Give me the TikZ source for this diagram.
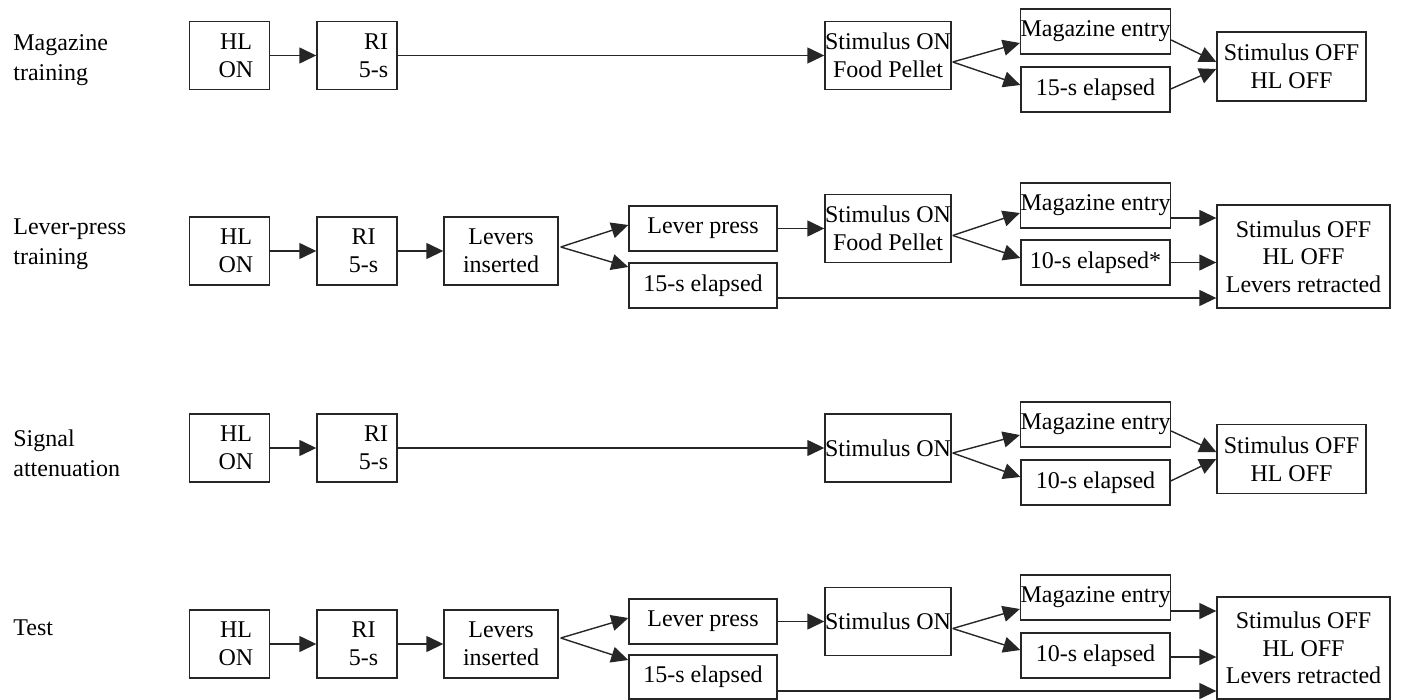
\documentclass[tikz,border=0pt]{standalone}
\usepackage{fontspec}
\setmainfont{Liberation Serif}
\usetikzlibrary{arrows.meta,calc}
\begin{document}
\begin{tikzpicture}[x=0.5pt,y=-0.5pt,
  box/.style 2 args={draw=black!85, line width=0.7pt, minimum width=#1*0.5pt, minimum height=#2*0.5pt, inner sep=0pt, font=\fontsize{12}{13.8}\selectfont, align=center},
  txt/.style={font=\fontsize{12}{14}\selectfont, align=center, inner sep=0pt},
  rtxt/.style={font=\fontsize{12}{14}\selectfont, align=right, inner sep=0pt},
  rowlabel/.style={font=\fontsize{12}{15}\selectfont, align=left, anchor=west, inner sep=0pt},
  arr/.style={draw=black!85, line width=0.7pt, -{Triangle[length=8.5pt,width=8pt]}}
]
\useasboundingbox (0,0) rectangle (1401,700);

% ---------- row labels ----------
\node[rowlabel] (lab1) at (13,60) {Magazine\\training};
\node[rowlabel] (lab2) at (13,244) {Lever-press\\training};
\node[rowlabel] (lab3) at (13,453) {Signal\\attenuation};
\node[rowlabel] (lab4) at (13,628) {Test};

% ---------- row 1: magazine training ----------
\node[box={80}{68}, label={[txt,xshift=3.25pt]center:HL\\ON}] (hl1) at (229.5,55.5) {};
\node[box={80}{68}, label={[rtxt,xshift=8.25pt]center:RI\\5-s}] (ri1) at (357,55.5) {};
\node[box={126}{68}] (st1) at (888,55.5) {Stimulus ON\\Food Pellet};
\node[box={149}{45}] (mg1) at (1095.5,31.5) {Magazine entry};
\node[box={149}{45}] (el1) at (1095.5,89.5) {15-s elapsed};
\node[box={149}{69}] (of1) at (1291.5,66.5) {Stimulus OFF\\HL OFF};

\draw[arr] (hl1.east) -- (ri1.west);
\draw[arr] (ri1.east) -- (st1.west);
\draw[arr] ($(st1.east)+(1,6.5)$) -- ($(mg1.west)+(0,11.5)$);
\draw[arr] ($(st1.east)+(1,6.5)$) -- ($(el1.west)+(0,-4.5)$);
\draw[arr] ($(mg1.east)+(0,8.5)$) -- ($(of1.west)+(0,-4.5)$);
\draw[arr] ($(el1.east)+(0,-0.5)$) -- ($(of1.west)+(0,2.5)$);

% ---------- row 2: lever-press training ----------
\node[box={80}{68}, label={[txt,xshift=3.25pt]center:HL\\ON}] (hl2) at (229.5,251) {};
\node[box={80}{68}, label={[txt,xshift=3.25pt]center:RI\\5-s}] (ri2) at (357,251) {};
\node[box={114}{68}] (lv2) at (501,251) {Levers\\inserted};
\node[box={148}{45}] (lp2) at (703,228.5) {Lever press};
\node[box={148}{45}] (ea2) at (703,285.5) {15-s elapsed};
\node[box={126}{68}] (st2) at (888,228.5) {Stimulus ON\\Food Pellet};
\node[box={149}{45}] (mg2) at (1095.5,205.5) {Magazine entry};
\node[box={149}{45}] (eb2) at (1095.5,262.5) {10-s elapsed*};
\node[box={173}{103}] (of2) at (1303.5,256.5) {Stimulus OFF\\HL OFF\\Levers retracted};

\draw[arr] (hl2.east) -- (ri2.west);
\draw[arr] (ri2.east) -- (lv2.west);
\draw[arr] ($(lv2.east)+(2,-4)$) -- ($(lp2.west)+(0,-3.5)$);
\draw[arr] ($(lv2.east)+(2,-4)$) -- ($(ea2.west)+(0,-18.5)$);
\draw[arr] (lp2.east) -- (st2.west);
\draw[arr] ($(st2.east)+(1,7)$) -- ($(mg2.west)+(0,7.5)$);
\draw[arr] ($(st2.east)+(1,7)$) -- ($(eb2.west)+(0,-4.5)$);
\draw[arr] ($(mg2.east)+(0,12.5)$) coordinate (m2) -- (m2 -| of2.west);
\draw[arr] (eb2.east) -- (eb2.east -| of2.west);
\draw[arr] ($(ea2.east)+(0,12.5)$) coordinate (e2) -- (e2 -| of2.west);

% ---------- row 3: signal attenuation ----------
\node[box={80}{68}, label={[txt,xshift=3.25pt]center:HL\\ON}] (hl3) at (229.5,448) {};
\node[box={80}{68}, label={[rtxt,xshift=8.25pt]center:RI\\5-s}] (ri3) at (357,448) {};
\node[box={126}{68}] (st3) at (888,448) {Stimulus ON};
\node[box={149}{45}] (mg3) at (1095.5,424.5) {Magazine entry};
\node[box={149}{45}] (el3) at (1095.5,482.5) {10-s elapsed};
\node[box={149}{69}] (of3) at (1291.5,459) {Stimulus OFF\\HL OFF};

\draw[arr] (hl3.east) -- (ri3.west);
\draw[arr] (ri3.east) -- (st3.west);
\draw[arr] ($(st3.east)+(1,5)$) -- ($(mg3.west)+(0,10.5)$);
\draw[arr] ($(st3.east)+(1,5)$) -- ($(el3.west)+(0,-5.5)$);
\draw[arr] ($(mg3.east)+(0,6.5)$) -- ($(of3.west)+(0,-7)$);
\draw[arr] ($(el3.east)+(0,-1.5)$) -- (of3.west);

% ---------- row 4: test ----------
\node[box={80}{68}, label={[txt,xshift=3.25pt]center:HL\\ON}] (hl4) at (229.5,644) {};
\node[box={80}{68}, label={[txt,xshift=3.25pt]center:RI\\5-s}] (ri4) at (357,644) {};
\node[box={114}{68}] (lv4) at (501,644) {Levers\\inserted};
\node[box={148}{45}] (lp4) at (703,621.5) {Lever press};
\node[box={148}{44}] (ea4) at (703,677) {15-s elapsed};
\node[box={126}{68}] (st4) at (888,621.5) {Stimulus ON};
\node[box={149}{45}] (mg4) at (1095.5,597.5) {Magazine entry};
\node[box={149}{45}] (eb4) at (1095.5,655.5) {10-s elapsed};
\node[box={173}{102}] (of4) at (1303.5,648) {Stimulus OFF\\HL OFF\\Levers retracted};

\draw[arr] (hl4.east) -- (ri4.west);
\draw[arr] (ri4.east) -- (lv4.west);
\draw[arr] ($(lv4.east)+(2,-6)$) -- ($(lp4.west)+(0,-3.5)$);
\draw[arr] ($(lv4.east)+(2,-6)$) -- ($(ea4.west)+(0,-17)$);
\draw[arr] (lp4.east) -- (st4.west);
\draw[arr] ($(st4.east)+(1,7)$) -- ($(mg4.west)+(0,11.5)$);
\draw[arr] ($(st4.east)+(1,7)$) -- ($(eb4.west)+(0,-5.5)$);
\draw[arr] ($(mg4.east)+(0,13.5)$) coordinate (m4) -- (m4 -| of4.west);
\draw[arr] ($(eb4.east)+(0,1.5)$) coordinate (b4) -- (b4 -| of4.west);
\draw[arr] ($(ea4.east)+(0,14)$) coordinate (e4) -- (e4 -| of4.west);
\end{tikzpicture}
\end{document}
